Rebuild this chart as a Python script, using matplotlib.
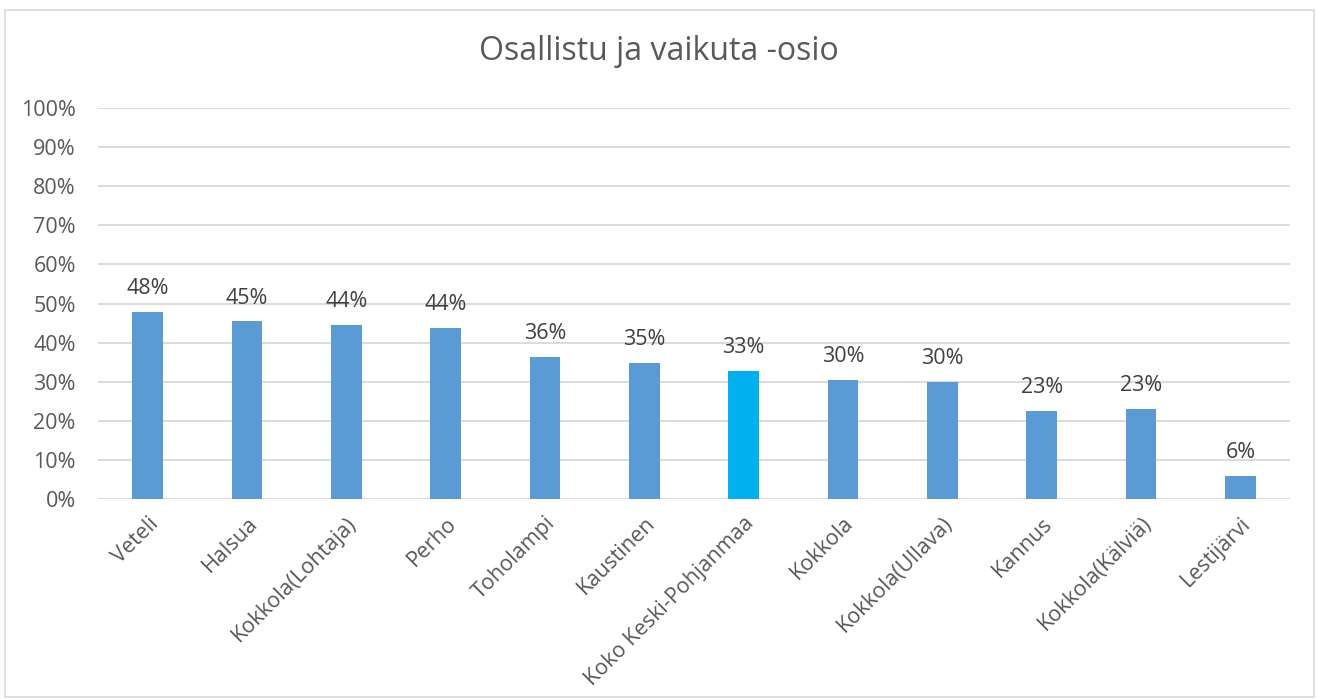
import matplotlib.pyplot as plt
from matplotlib.patches import Rectangle
from matplotlib.ticker import PercentFormatter

plt.rcParams['font.family'] = ['Open Sans', 'DejaVu Sans']

kunnat = ['Veteli', 'Halsua', 'Kokkola(Lohtaja)', 'Perho', 'Toholampi', 'Kaustinen',
          'Koko Keski-Pohjanmaa', 'Kokkola', 'Kokkola(Ullava)', 'Kannus',
          'Kokkola(Kälviä)', 'Lestijärvi']
osuus = [47.8, 45.4, 44.5, 43.8, 36.4, 34.8, 32.8, 30.4, 30.0, 22.6, 23.1, 5.9]
korostus = 'Koko Keski-Pohjanmaa'

perus = '#5b9bd5'
kor_vari = '#00b0f0'
teksti = '#595959'

fig = plt.figure(figsize=(13.17, 6.99), dpi=100)
ax = fig.add_axes([98 / 1317, 1 - 499 / 699, (1290 - 98) / 1317, (499 - 108) / 699])

# kehys kaavion ympärille
fig.patches.append(Rectangle((5 / 1317, 1 - 697 / 699), 1309 / 1317, 687 / 699,
                             transform=fig.transFigure, fill=False,
                             edgecolor='#d9d9d9', linewidth=1.2))

x = range(len(kunnat))
varit = [kor_vari if k == korostus else perus for k in kunnat]
palkit = ax.bar(x, osuus, width=0.31, color=varit, zorder=3)

for p, v in zip(palkit, osuus):
    ax.text(p.get_x() + p.get_width() / 2, v + 3.3, f'{round(v):.0f}%',
            ha='center', va='bottom', fontsize=15.5, color='#404040')

ax.set_ylim(0, 100)
ax.set_xlim(-0.5, len(kunnat) - 0.5)
ax.set_yticks(range(0, 101, 10))
ax.yaxis.set_major_formatter(PercentFormatter(decimals=0))
ax.grid(axis='y', color='#d9d9d9', linewidth=1.3, zorder=0)
for s in ax.spines.values():
    s.set_visible(False)
ax.tick_params(axis='both', length=0, labelsize=15.5, colors=teksti)
ax.tick_params(axis='y', pad=16)

ax.set_xticks(list(x))
ax.set_xticklabels(kunnat, rotation=45, ha='right', rotation_mode='anchor')
ax.tick_params(axis='x', pad=10)

fig.text(0.5, 1 - 52 / 699, 'Osallistu ja vaikuta -osio', ha='center', va='center',
         fontsize=23, color=teksti)

fig.savefig('out.png', dpi=100)
